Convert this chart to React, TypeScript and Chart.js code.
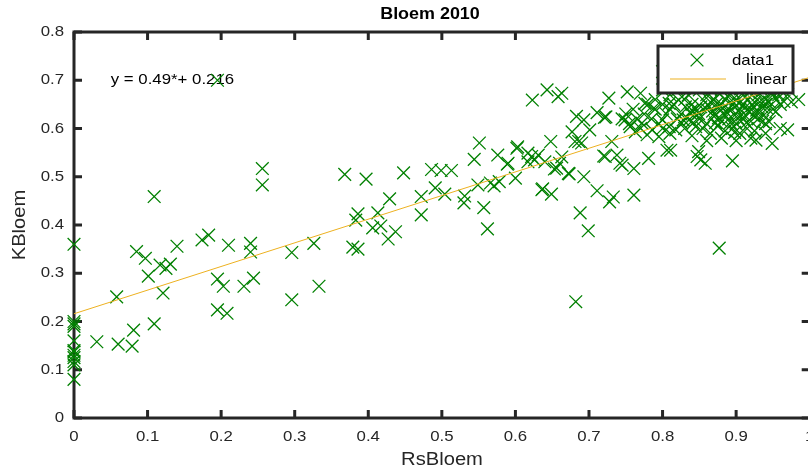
import { useEffect, useRef } from 'react';
import { Chart, registerables } from 'chart.js';

Chart.register(...registerables);

const chartTitle = 'Bloem 2010';
const xAxisLabel = 'RsBloem';
const yAxisLabel = 'KBloem';
const equationText = 'y = 0.49*+ 0.216';
const seriesLabels = ['data1', 'linear'];

const xTicks = [0, 0.1, 0.2, 0.3, 0.4, 0.5, 0.6, 0.7, 0.8, 0.9, 1];
const yTicks = [0, 0.1, 0.2, 0.3, 0.4, 0.5, 0.6, 0.7, 0.8];
const xTickLabels = ['0', '0.1', '0.2', '0.3', '0.4', '0.5', '0.6', '0.7', '0.8', '0.9', '1'];
const yTickLabels = ['0', '0.1', '0.2', '0.3', '0.4', '0.5', '0.6', '0.7', '0.8'];

const fitCoefficients = [0.49, 0.216]; // slope, intercept
const fitRange = [0, 1];

const zeroColumn: [number, number][] = [
  [0, 0.36], [0, 0.2], [0, 0.195], [0, 0.19], [0, 0.16], [0, 0.14], [0, 0.137], [0, 0.13],
  [0, 0.125], [0, 0.117], [0, 0.11], [0, 0.08],
];

const lowPoints: [number, number][] = [
  [0.031, 0.158], [0.058, 0.251], [0.06, 0.153], [0.079, 0.149], [0.081, 0.182], [0.109, 0.195],
  [0.121, 0.259], [0.101, 0.294], [0.085, 0.345], [0.097, 0.331], [0.117, 0.317], [0.125, 0.31],
  [0.131, 0.319], [0.14, 0.356], [0.109, 0.459], [0.174, 0.369], [0.183, 0.379], [0.195, 0.288],
  [0.203, 0.273], [0.195, 0.224], [0.208, 0.217], [0.21, 0.358], [0.231, 0.273], [0.244, 0.29],
  [0.24, 0.344], [0.24, 0.362], [0.256, 0.517], [0.256, 0.483], [0.296, 0.343], [0.296, 0.245],
  [0.326, 0.362], [0.333, 0.273], [0.195, 0.7],
];

const midPoints: [number, number][] = [
  [0.368, 0.505], [0.397, 0.495], [0.448, 0.508], [0.486, 0.515], [0.499, 0.513], [0.513, 0.513],
  [0.429, 0.454], [0.472, 0.459], [0.491, 0.477], [0.504, 0.464], [0.472, 0.421], [0.386, 0.423],
  [0.383, 0.41], [0.413, 0.425], [0.406, 0.394], [0.417, 0.398], [0.437, 0.386], [0.427, 0.371],
  [0.379, 0.354], [0.386, 0.35], [0.544, 0.536], [0.551, 0.57], [0.576, 0.545], [0.589, 0.526],
  [0.531, 0.46], [0.53, 0.446], [0.549, 0.483], [0.566, 0.487], [0.571, 0.481], [0.578, 0.49],
  [0.557, 0.436], [0.562, 0.392], [0.6, 0.497], [0.603, 0.562], [0.617, 0.549], [0.622, 0.542],
  [0.626, 0.535], [0.617, 0.531], [0.631, 0.545], [0.648, 0.573], [0.637, 0.475], [0.649, 0.464],
  [0.653, 0.516], [0.66, 0.528], [0.663, 0.541], [0.673, 0.506], [0.686, 0.573], [0.69, 0.57],
  [0.693, 0.5], [0.688, 0.425], [0.699, 0.388], [0.682, 0.241], [0.711, 0.471], [0.72, 0.543],
  [0.728, 0.448],
];

const upperPoints: [number, number][] = [
  [0.623, 0.659], [0.643, 0.68], [0.658, 0.666], [0.663, 0.673], [0.727, 0.663], [0.752, 0.676],
  [0.77, 0.673], [0.683, 0.625], [0.693, 0.618], [0.711, 0.633], [0.721, 0.623], [0.677, 0.593],
  [0.701, 0.597], [0.681, 0.573], [0.602, 0.559], [0.59, 0.528], [0.64, 0.531], [0.656, 0.518],
  [0.672, 0.507], [0.722, 0.542], [0.738, 0.545], [0.742, 0.528], [0.761, 0.517], [0.781, 0.538],
  [0.636, 0.473], [0.733, 0.458], [0.761, 0.462], [0.806, 0.555], [0.847, 0.542], [0.731, 0.573],
  [0.745, 0.524], [0.749, 0.618], [0.756, 0.604], [0.763, 0.593], [0.772, 0.611], [0.779, 0.587],
  [0.786, 0.597], [0.795, 0.583], [0.8, 0.618], [0.809, 0.604], [0.818, 0.597], [0.826, 0.611],
  [0.836, 0.618], [0.845, 0.604], [0.776, 0.652], [0.788, 0.642], [0.809, 0.652], [0.822, 0.659],
  [0.831, 0.645], [0.84, 0.638], [0.849, 0.631],
];

const rightPoints: [number, number][] = [
  [0.97, 0.597], [0.949, 0.569], [0.927, 0.576], [0.895, 0.533], [0.849, 0.552], [0.858, 0.528],
  [0.852, 0.535], [0.811, 0.555], [0.723, 0.624], [0.965, 0.656], [0.954, 0.635], [0.945, 0.614],
  [0.8, 0.718], [0.877, 0.352],
];

const densePoints: [number, number][] = [
  [0.86, 0.67], [0.87, 0.66], [0.88, 0.68], [0.89, 0.67], [0.9, 0.66], [0.91, 0.67], [0.92, 0.68],
  [0.93, 0.67], [0.94, 0.66], [0.95, 0.67], [0.86, 0.64], [0.87, 0.63], [0.88, 0.65], [0.89, 0.64],
  [0.9, 0.63], [0.91, 0.65], [0.92, 0.64], [0.93, 0.63], [0.94, 0.65], [0.95, 0.64], [0.865, 0.655],
  [0.875, 0.645], [0.885, 0.66], [0.895, 0.65], [0.905, 0.64], [0.915, 0.66], [0.925, 0.655],
  [0.935, 0.645], [0.945, 0.655], [0.955, 0.66], [0.85, 0.62], [0.86, 0.61], [0.87, 0.625],
  [0.88, 0.615], [0.89, 0.62], [0.9, 0.61], [0.91, 0.62], [0.92, 0.615], [0.93, 0.62], [0.94, 0.61],
  [0.855, 0.6], [0.865, 0.59], [0.875, 0.605], [0.885, 0.595], [0.895, 0.6], [0.905, 0.59],
  [0.915, 0.6], [0.925, 0.595], [0.83, 0.66], [0.84, 0.65], [0.835, 0.67], [0.845, 0.64],
  [0.825, 0.63], [0.815, 0.65], [0.82, 0.62], [0.81, 0.64], [0.805, 0.63], [0.8, 0.65], [0.79, 0.64],
  [0.785, 0.62], [0.795, 0.61], [0.775, 0.63], [0.765, 0.62], [0.77, 0.6], [0.76, 0.64], [0.75, 0.63],
  [0.755, 0.61], [0.745, 0.62], [0.87, 0.69], [0.89, 0.7], [0.91, 0.69], [0.93, 0.69], [0.95, 0.695],
  [0.96, 0.68], [0.97, 0.67], [0.96, 0.65], [0.975, 0.655], [0.985, 0.66], [0.84, 0.69], [0.82, 0.68],
  [0.85, 0.68], [0.81, 0.67], [0.8, 0.68], [0.79, 0.66], [0.78, 0.65], [0.88, 0.58], [0.9, 0.575],
  [0.86, 0.575], [0.84, 0.585], [0.92, 0.58], [0.94, 0.59], [0.96, 0.6], [0.83, 0.6], [0.81, 0.59],
  [0.8, 0.6],
];

const coreClusterPoints: [number, number][] = [
  [0.862, 0.648], [0.868, 0.636], [0.874, 0.652], [0.882, 0.642], [0.888, 0.632], [0.894, 0.658],
  [0.898, 0.645], [0.904, 0.652], [0.908, 0.628], [0.912, 0.643], [0.918, 0.634], [0.922, 0.648],
  [0.928, 0.638], [0.932, 0.655], [0.938, 0.628], [0.942, 0.642], [0.876, 0.622], [0.884, 0.628],
  [0.892, 0.612], [0.902, 0.622], [0.914, 0.612], [0.924, 0.626], [0.936, 0.615], [0.852, 0.645],
  [0.846, 0.628], [0.838, 0.632], [0.842, 0.612], [0.828, 0.618], [0.878, 0.672], [0.896, 0.676],
  [0.918, 0.674], [0.936, 0.678], [0.906, 0.682], [0.884, 0.688], [0.948, 0.676], [0.958, 0.67],
  [0.866, 0.68], [0.856, 0.658], [0.872, 0.612], [0.898, 0.592],
];

const markerColor = '#008000';
const fitColor = '#EDB120';
const axisColor = '#262626';
const FONT = '"Liberation Sans", Arial, Helvetica, sans-serif';
const SX = 1.12;

function drawText(
  ctx: CanvasRenderingContext2D,
  s: string,
  x: number,
  y: number,
  align: CanvasTextAlign,
  font: string,
  color: string,
  rotate = 0,
) {
  ctx.save();
  ctx.font = font;
  ctx.fillStyle = color;
  ctx.textAlign = align;
  ctx.textBaseline = 'middle';
  ctx.translate(x, y);
  if (rotate) ctx.rotate(rotate);
  ctx.scale(SX, 1);
  ctx.fillText(s, 0, 0);
  ctx.restore();
}

const matlabAxes = {
  id: 'matlabAxes',
  beforeDatasetsDraw(chart: any) {
    const { ctx, chartArea: a, scales } = chart;
    const xs = scales.x;
    const ys = scales.y;
    ctx.save();
    drawText(ctx, chartTitle, 430, 15, 'center', `bold 16px ${FONT}`, '#000');
    drawText(ctx, equationText, xs.getPixelForValue(0.05), ys.getPixelForValue(0.7), 'left', `15px ${FONT}`, '#000');
    ctx.strokeStyle = axisColor;
    ctx.lineWidth = 3;
    ctx.strokeRect(a.left, a.top, a.right - a.left, a.bottom - a.top);
    const tl = 8;
    ctx.beginPath();
    xTicks.forEach((v) => {
      const px = xs.getPixelForValue(v);
      ctx.moveTo(px, a.bottom);
      ctx.lineTo(px, a.bottom - tl);
      ctx.moveTo(px, a.top);
      ctx.lineTo(px, a.top + tl);
    });
    yTicks.forEach((v) => {
      const py = ys.getPixelForValue(v);
      ctx.moveTo(a.left, py);
      ctx.lineTo(a.left + tl, py);
      ctx.moveTo(a.right, py);
      ctx.lineTo(a.right - tl, py);
    });
    ctx.stroke();
    xTicks.forEach((v, i) => {
      drawText(ctx, xTickLabels[i], xs.getPixelForValue(v), a.bottom + 19, 'center', `15px ${FONT}`, axisColor);
    });
    yTicks.forEach((v, i) => {
      drawText(ctx, yTickLabels[i], a.left - 10, ys.getPixelForValue(v), 'right', `15px ${FONT}`, axisColor);
    });
    drawText(ctx, xAxisLabel, 442, 460, 'center', `18px ${FONT}`, axisColor);
    drawText(ctx, yAxisLabel, 20, (a.top + a.bottom) / 2, 'center', `18px ${FONT}`, axisColor, -Math.PI / 2);
    ctx.restore();
  },
  afterDatasetsDraw(chart: any) {
    const { ctx } = chart;
    ctx.save();
    ctx.fillStyle = '#fff';
    ctx.fillRect(658, 46, 135, 47);
    ctx.strokeStyle = axisColor;
    ctx.lineWidth = 3;
    ctx.strokeRect(658, 46, 135, 47);
    ctx.strokeStyle = markerColor;
    ctx.lineWidth = 1.3;
    ctx.beginPath();
    ctx.moveTo(697 - 6.4, 60 - 6.4);
    ctx.lineTo(697 + 6.4, 60 + 6.4);
    ctx.moveTo(697 + 6.4, 60 - 6.4);
    ctx.lineTo(697 - 6.4, 60 + 6.4);
    ctx.stroke();
    ctx.strokeStyle = fitColor;
    ctx.lineWidth = 1;
    ctx.beginPath();
    ctx.moveTo(670, 79);
    ctx.lineTo(726, 79);
    ctx.stroke();
    drawText(ctx, seriesLabels[0], 732, 61, 'left', `15px ${FONT}`, '#000');
    drawText(ctx, seriesLabels[1], 746, 80, 'left', `15px ${FONT}`, '#000');
    ctx.restore();
  },
};

export default function App() {
  const ref = useRef<HTMLCanvasElement>(null);
  useEffect(() => {
    if (!ref.current) return;
    const all = [
      ...zeroColumn, ...lowPoints, ...midPoints, ...upperPoints, ...rightPoints, ...densePoints, ...coreClusterPoints,
    ];
    const fitData = fitRange.map((x) => ({ x, y: fitCoefficients[0] * x + fitCoefficients[1] }));
    const chart = new Chart(ref.current, {
      type: 'scatter',
      data: {
        datasets: [
          {
            type: 'line',
            label: seriesLabels[1],
            data: fitData,
            borderColor: fitColor,
            borderWidth: 1,
            pointRadius: 0,
            fill: false,
            order: 0,
          } as any,
          {
            label: seriesLabels[0],
            data: all.map(([x, y]) => ({ x, y })),
            pointStyle: 'crossRot',
            pointRadius: 9,
            pointBorderWidth: 1.3,
            borderColor: markerColor,
            backgroundColor: markerColor,
            clip: false,
            order: 1,
          } as any,
        ],
      },
      options: {
        responsive: false,
        maintainAspectRatio: false,
        animation: false,
        layout: { padding: { left: 74, right: 10, top: 32, bottom: 54 } },
        scales: {
          x: { type: 'linear', min: 0, max: 1, display: false },
          y: { type: 'linear', min: 0, max: 0.8, display: false },
        },
        plugins: { legend: { display: false }, tooltip: { enabled: false }, title: { display: false } },
      },
      plugins: [matlabAxes],
    });
    return () => chart.destroy();
  }, []);
  return (
    <div style={{ position: 'fixed', left: 0, top: 0, width: 808, height: 472, overflow: 'hidden', background: '#fff' }}>
      <canvas ref={ref} width={820} height={472} style={{ width: 820, height: 472, display: 'block' }} />
    </div>
  );
}
